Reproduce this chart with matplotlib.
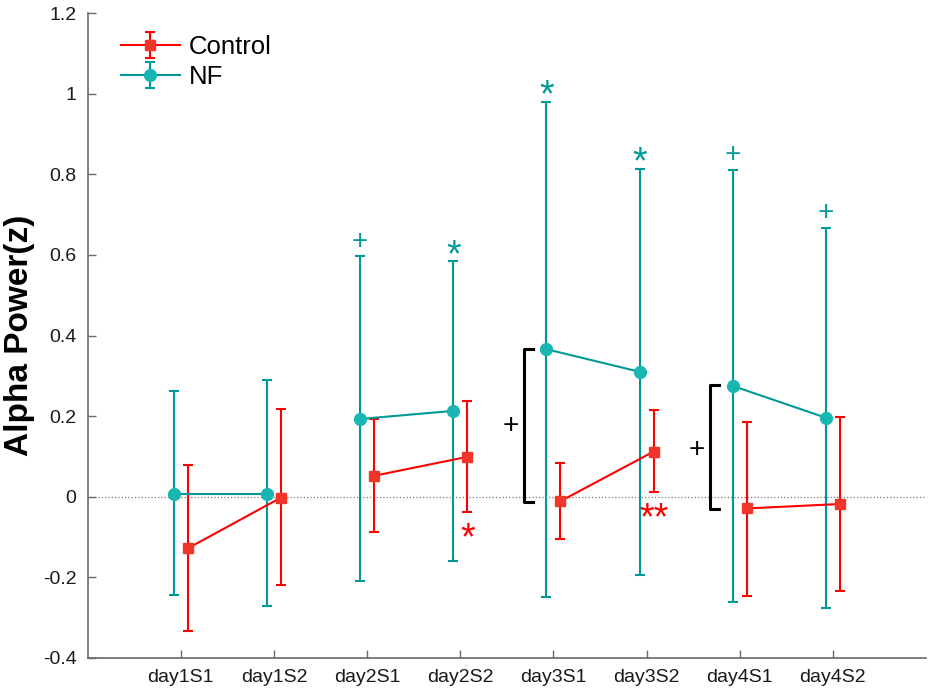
import numpy as np
import matplotlib
matplotlib.use('Agg')
import matplotlib.pyplot as plt

plt.rcParams['font.family'] = ['Liberation Sans', 'DejaVu Sans']

sessions = ['day1S1', 'day1S2', 'day2S1', 'day2S2', 'day3S1', 'day3S2', 'day4S1', 'day4S2']

# Control group: mean, lower end and upper end of error bar
ctrl_mean = [-0.128, -0.002, 0.052, 0.099, -0.011, 0.112, -0.029, -0.018]
ctrl_low = [-0.334, -0.219, -0.087, -0.039, -0.106, 0.011, -0.245, -0.235]
ctrl_high = [0.079, 0.217, 0.192, 0.238, 0.084, 0.214, 0.185, 0.197]

# NF group
nf_mean = [0.008, 0.008, 0.193, 0.213, 0.366, 0.310, 0.275, 0.196]
nf_low = [-0.244, -0.270, -0.209, -0.159, -0.248, -0.194, -0.262, -0.276]
nf_high = [0.263, 0.290, 0.597, 0.584, 0.980, 0.813, 0.810, 0.666]

# significance marks above NF bars: (session index, symbol, y)
nf_marks = [(2, '+', 0.633), (3, '*', 0.618), (4, '*', 1.015),
            (5, '*', 0.848), (6, '+', 0.848), (7, '+', 0.703)]
# significance marks below control bars
ctrl_marks = [(3, '*', -0.083), (5, '**', -0.035)]
# between-group brackets: (session index, y bottom, y top, "+" y)
brackets = [(4, -0.012, 0.366, 0.175), (6, -0.030, 0.277, 0.116)]

RED = '#ff0000'
RED_FILL = '#f2352b'
TEAL = '#009999'
TEAL_FILL = '#19b5b3'


def star_text(ax, x, y, sym, color):
    # asterisks sit high in the em box, so nudge them down
    ax.text(x, y - 0.022, sym, color=color, fontsize=27, ha='center', va='center')


def main():
    fig = plt.figure(figsize=(9.35, 6.96), dpi=100)
    ax = fig.add_axes([0.0938, 0.0546, 0.8966, 0.9267])

    x = np.arange(1, len(sessions) + 1)
    off = 0.075

    cm = np.array(ctrl_mean)
    nm = np.array(nf_mean)
    ctrl_err = [cm - np.array(ctrl_low), np.array(ctrl_high) - cm]
    nf_err = [nm - np.array(nf_low), np.array(nf_high) - nm]

    ax.axhline(0, color='#777777', linestyle=':', linewidth=0.9, zorder=0)

    h_ctrl = None
    h_nf = None
    for day in range(4):
        sl = slice(2 * day, 2 * day + 2)
        hc = ax.errorbar(x[sl] + off, cm[sl], yerr=[ctrl_err[0][sl], ctrl_err[1][sl]],
                         color=RED, ecolor=RED, linewidth=1.5, elinewidth=1.5,
                         capsize=3.6, capthick=1.5, marker='s', markersize=7,
                         markerfacecolor=RED_FILL, markeredgecolor=RED_FILL)
        hn = ax.errorbar(x[sl] - off, nm[sl], yerr=[nf_err[0][sl], nf_err[1][sl]],
                         color=TEAL, ecolor=TEAL, linewidth=1.5, elinewidth=1.5,
                         capsize=3.6, capthick=1.5, marker='o', markersize=8.5,
                         markerfacecolor=TEAL_FILL, markeredgecolor=TEAL_FILL)
        if h_ctrl is None:
            h_ctrl, h_nf = hc, hn

    for i, sym, y in nf_marks:
        if sym == '+':
            ax.text(x[i] - off, y, sym, color=TEAL, fontsize=20, ha='center', va='center')
        else:
            star_text(ax, x[i] - off, y, sym, TEAL)
    for i, sym, y in ctrl_marks:
        star_text(ax, x[i] + off, y, sym, RED)

    for i, y0, y1, yp in brackets:
        bx = x[i] - 0.32
        ax.plot([bx + 0.1, bx, bx, bx + 0.1], [y1, y1, y0, y0], color='black', linewidth=2.2)
        ax.text(x[i] - 0.46, yp, '+', color='black', fontsize=20, ha='center', va='center')

    ax.set_xlim(0, 9)
    ax.set_ylim(-0.4, 1.2)
    ax.set_xticks(x)
    ax.set_xticklabels(sessions)
    yt = np.round(np.arange(-0.4, 1.21, 0.2), 1)
    ax.set_yticks(yt)
    ax.set_yticklabels(['%g' % v for v in yt])

    ax.spines['top'].set_visible(False)
    ax.spines['right'].set_visible(False)
    for s in ['left', 'bottom']:
        ax.spines[s].set_color('#6a6a6a')
        ax.spines[s].set_linewidth(1.2)
    ax.tick_params(direction='in', length=6, width=1.0, color='#6a6a6a',
                   labelsize=14, labelcolor='#1a1a1a', pad=8)

    ax.set_ylabel('Alpha Power(z)', fontsize=24, fontweight='bold', labelpad=6)

    ax.legend([h_ctrl, h_nf], ['Control', 'NF'], loc='upper left', frameon=False,
              fontsize=18.5, handlelength=2.3, handletextpad=0.35,
              labelspacing=0.25, borderaxespad=0.4, bbox_to_anchor=(0.015, 0.998))

    fig.savefig('out.png', dpi=100)
    plt.close(fig)


if __name__ == "__main__":
    main()
